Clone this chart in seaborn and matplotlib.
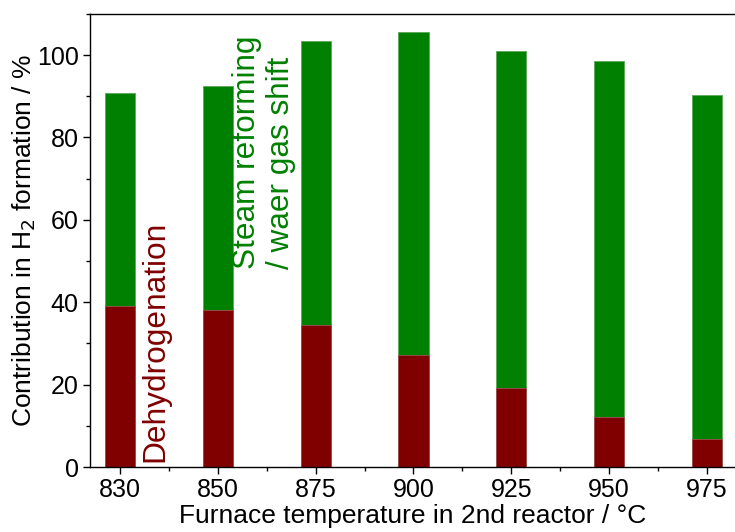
"""
Stacked bar chart: contribution of reactions to H2 formation vs furnace temperature.
"""
import numpy as np
import pandas as pd
import matplotlib
matplotlib.use("Agg")
import matplotlib.pyplot as plt
from matplotlib.ticker import AutoMinorLocator
import seaborn as sns

# data
temperatures = ["830", "850", "875", "900", "925", "950", "975"]
dehydrogenation = [39.2, 38.2, 34.5, 27.1, 19.2, 12.1, 6.9]
total = [90.9, 92.5, 103.4, 105.7, 101.1, 98.5, 90.4]

red = "#800000"
green = "#008000"

sns.set_theme(style="ticks")
plt.rcParams["font.family"] = ["Liberation Sans", "DejaVu Sans"]
plt.rcParams["text.color"] = "black"
plt.rcParams["axes.labelcolor"] = "black"
plt.rcParams["xtick.color"] = "black"
plt.rcParams["ytick.color"] = "black"

df = pd.DataFrame({"temp": temperatures, "dehyd": dehydrogenation, "total": total})

fig = plt.figure(figsize=(7.35, 5.32), dpi=100)
ax = fig.add_axes([0.1224, 0.122, 0.8776, 0.852])

# total first (green), dehydrogenation drawn over it (red)
sns.barplot(data=df, x="temp", y="total", color=green, saturation=1,
            width=0.31, edgecolor="#5aa85a", linewidth=0.6, ax=ax)
sns.barplot(data=df, x="temp", y="dehyd", color=red, saturation=1,
            width=0.31, edgecolor="#a05050", linewidth=0.6, ax=ax)

ax.set_xlim(-0.31, 6.29)
ax.set_ylim(0, 110)
ax.set_yticks([0, 20, 40, 60, 80, 100])
ax.yaxis.set_minor_locator(AutoMinorLocator(2))
ax.set_xticks(np.arange(0.5, 6, 1), minor=True)

ax.set_xlabel("Furnace temperature in 2nd reactor / °C", fontsize=19, labelpad=1)
ax.set_ylabel("Contribution in H$_2$ formation / %", fontsize=19, labelpad=-1)

ax.tick_params(axis="both", which="major", direction="out", length=5, width=1,
               labelsize=18, colors="black", pad=3)
ax.tick_params(axis="both", which="minor", direction="out", length=3, width=1,
               color="black")

for side in ["left", "bottom", "top"]:
    ax.spines[side].set_color("black")
    ax.spines[side].set_linewidth(1)
ax.spines["right"].set_visible(False)

# in-plot labels
ax.text(0.36, 1.2, "Dehydrogenation", rotation=90, color=red, fontsize=22.8,
        ha="center", va="bottom")
ax.text(1.47, 48.0, "Steam reforming\n/ waer gas shift", rotation=90, color=green,
        fontsize=22.7, ha="center", va="bottom", multialignment="left")

fig.savefig("out.png", dpi=100)
